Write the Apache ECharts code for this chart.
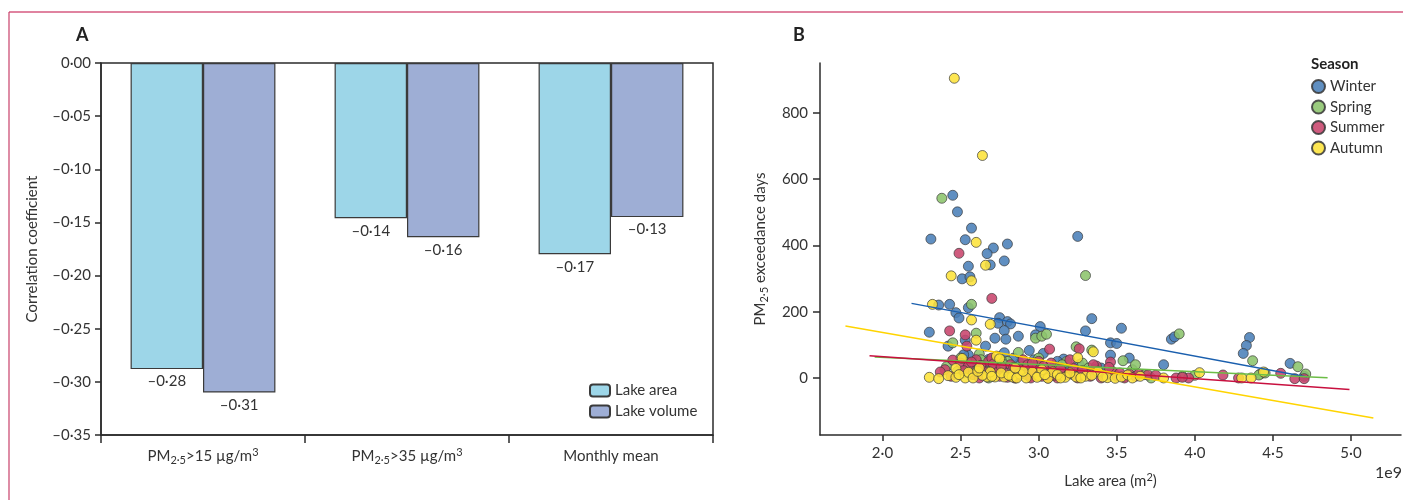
<!DOCTYPE html>
<html><head><meta charset="utf-8">
<script src="https://cdn.jsdelivr.net/npm/echarts@6/dist/echarts.min.js"></script>
<style>html,body{margin:0;padding:0;background:#fff}#c{width:1403px;height:500px}</style>
</head><body><div id="c"></div>
<script>
// ---------- Panel A data ----------
const barCategories = ['PM{s|2·5}>15 µg/m{p|3}', 'PM{s|2·5}>35 µg/m{p|3}', 'Monthly mean'];
const areaValues = [-0.288, -0.146, -0.180];
const volumeValues = [-0.310, -0.164, -0.145];
const areaLabels = ['\u20130·28', '\u20130·14', '\u20130·17'];
const volumeLabels = ['\u20130·31', '\u20130·16', '\u20130·13'];
const barSeriesNames = ['Lake area', 'Lake volume'];

// ---------- Panel B data (x in units of 1e9 m²) ----------
const seasons = ['Winter', 'Spring', 'Summer', 'Autumn'];
const winterX = [2.45,2.48,2.57,2.31,2.53,2.71,2.80,2.67,3.25,2.55,2.69,2.78,2.51,2.56,2.36,2.43,2.55,2.47,2.49,2.75,2.74,2.80,2.82,3.01,3.34,3.30,2.78,2.30,2.53,2.72,2.79,2.87,2.98,2.66,2.42,2.55,2.78,2.94,3.03,3.16,2.68,3.53,3.85,3.87,4.35,4.33,4.31,3.46,3.50,3.46,3.58,3.80,4.61,2.62,2.75,2.88,2.95,3.10,3.20,3.05,2.70,3.40,2.58,4.70,2.52,2.60,2.84,2.97,3.12,3.26,2.64];
const winterY = [551,501,452,419,417,392,404,375,427,337,341,353,299,305,220,222,212,197,181,182,165,170,163,155,179,142,143,138,114,120,117,126,130,96,96,69,76,83,74,57,56,150,117,124,122,98,74,106,104,69,60,40,44,40,30,45,20,35,25,10,10,30,20,5,70,50,60,55,50,40,25];
const springX = [2.38,3.30,2.57,2.60,2.98,3.02,3.05,2.45,3.24,3.34,2.62,2.87,3.18,3.90,4.37,3.54,4.66,4.71,4.42,4.41,2.41,2.55,2.65,2.72,2.80,2.90,2.95,3.08,3.15,3.22,3.38,3.48,3.60,3.68,3.72,3.92,2.85,2.48,2.68,4.00,3.28,2.76,3.00,4.45,2.50,2.58,2.63,2.70,2.78,2.93,3.12,3.25,3.32,3.44,3.55,3.62,2.52,2.98];
const springY = [542,309,222,135,120,126,132,106,94,84,72,77,50,133,52,52,34,12,12,9,34,45,30,15,50,35,5,25,40,10,20,15,25,10,0,5,0,20,0,8,45,55,60,15,60,20,55,30,40,20,30,5,30,8,3,40,15,45];
const summerX = [2.49,2.70,2.43,2.53,2.54,3.07,3.26,2.45,3.46,3.37,4.18,4.28,4.55,4.64,4.70,3.70,3.75,3.88,3.96,2.40,2.50,2.55,2.58,2.62,2.65,2.68,2.72,2.75,2.78,2.82,2.85,2.88,2.92,2.95,2.98,3.02,3.05,3.08,3.12,3.15,3.18,3.22,3.25,3.30,3.33,3.36,3.40,3.43,3.47,3.50,3.55,3.58,3.62,2.60,2.70,2.37,3.00,3.20,2.90,3.92,2.44,2.52,2.57,2.63,2.67,2.71,2.74,2.80,2.84,2.87,2.93,2.97,3.03,3.10,3.14,3.28,3.35,3.45,3.52,3.64,2.76,3.06,2.96];
const summerY = [376,240,142,130,96,87,88,54,48,36,9,0,14,-2,-2,9,8,0,0,25,45,35,10,0,20,50,30,5,15,40,0,25,10,0,30,5,15,45,0,20,10,30,0,15,5,25,0,10,20,5,0,12,5,55,60,18,50,55,55,2,5,22,48,38,8,42,18,2,32,12,40,15,35,8,28,22,40,32,15,12,35,0,45];
const autumnX = [2.46,2.64,2.60,2.66,2.44,2.57,2.32,2.57,2.69,2.60,3.35,3.25,2.51,2.73,4.03,4.30,4.36,4.44,2.30,2.36,2.42,2.47,2.47,2.53,2.55,2.67,2.72,2.78,2.83,2.69,2.75,2.96,3.00,3.06,3.09,3.17,3.24,3.44,3.49,3.53,3.57,3.80,3.12,3.30,3.38,2.88,2.92,3.02,2.64,2.58,2.49,2.61,2.70,2.76,2.81,2.86,2.90,2.99,3.04,3.14,3.20,3.27,3.34,3.41,3.60,3.65,2.62,2.85];
const autumnY = [904,671,409,340,308,293,222,175,162,114,79,61,59,66,16,0,0,18,2,-2,7,2,29,0,17,3,3,3,3,18,58,18,7,-1,18,2,3,1,-1,3,9,0,10,5,20,12,0,25,8,0,10,20,5,15,8,0,20,2,10,0,15,0,8,3,0,5,30,30];
// fitted regression line end points
const winterFit = [[2.186, 225], [4.72, 3]];
const springFit = [[1.95, 63], [4.85, 1]];
const summerFit = [[1.917, 67], [4.99, -35]];
const autumnFit = [[1.763, 157], [5.143, -121]];
const xTicksB = [2.0, 2.5, 3.0, 3.5, 4.0, 4.5, 5.0];
const yTicksB = [0, 200, 400, 600, 800];

// ---------- styling ----------
const FONT = 'Lato, "Noto Sans", sans-serif';
const FS = 15;
const INK = '#333333';
const AXIS = '#2b2b2b';
const markerColors = ['#4a80b8', '#8cc46c', '#c8446c', '#fde23a'];
const lineColors = ['#1a5fae', '#6cbd46', '#c8103f', '#ffd400'];
const barColors = ['#9dd6e8', '#9eaed5'];

const fmtA = v => (v < 0 ? '\u2013' : '') + Math.abs(v).toFixed(2).replace('.', '\u00b7');
const fmtB = v => v.toFixed(1).replace('.', '\u00b7');
const zip = (xs, ys) => xs.map((x, i) => [x, ys[i]]);
const richSubSup = {
  s: { fontSize: 11, lineHeight: 12, verticalAlign: 'bottom', fontFamily: FONT, color: INK },
  p: { fontSize: 11, lineHeight: 12, verticalAlign: 'top', fontFamily: FONT, color: INK }
};

const seriesXs = [winterX, springX, summerX, autumnX];
const seriesYs = [winterY, springY, summerY, autumnY];
const fits = [winterFit, springFit, summerFit, autumnFit];

const scatterSeries = seasons.map((s, i) => ({
  name: s, type: 'scatter', xAxisIndex: 1, yAxisIndex: 1,
  data: zip(seriesXs[i], seriesYs[i]),
  symbolSize: 10, z: 2 + i * 0.01,
  itemStyle: { color: markerColors[i], borderColor: '#3a3a3a', borderWidth: 0.8, opacity: 0.88 }
}));
const fitSeries = seasons.map((s, i) => ({
  name: s + ' fit', type: 'line', xAxisIndex: 1, yAxisIndex: 1,
  data: fits[i], symbol: 'none', silent: true, z: 5,
  lineStyle: { color: lineColors[i], width: 1.5 }
}));

const option = {
  animation: false,
  backgroundColor: '#ffffff',
  textStyle: { fontFamily: FONT, color: INK },
  graphic: [
    { type: 'line', shape: { x1: 9, y1: 12, x2: 1403, y2: 12 }, style: { stroke: '#d65a80', lineWidth: 1.5 } },
    { type: 'line', shape: { x1: 9, y1: 12, x2: 9, y2: 500 }, style: { stroke: '#c8406a', lineWidth: 1.2 } },
    { type: 'text', left: 76, top: 26, style: { text: 'A', font: 'bold 18px ' + FONT, fill: '#222' } },
    { type: 'text', left: 793, top: 26, style: { text: 'B', font: 'bold 18px ' + FONT, fill: '#222' } },
    { type: 'text', left: 1311, top: 57, style: { text: 'Season', font: 'bold 15px ' + FONT, fill: '#222' } },
    { type: 'text', left: 1375, top: 465, style: { text: '1e9', font: '16px ' + FONT, fill: INK } }
  ],
  legend: [
    { data: barSeriesNames, orient: 'vertical', left: 584, top: 378, itemWidth: 20, itemHeight: 12, itemGap: 6,
      selectedMode: false, textStyle: { fontSize: FS, color: INK, fontFamily: FONT } },
    { data: seasons, orient: 'vertical', left: 1306, top: 74, icon: 'circle', itemWidth: 13, itemHeight: 13, itemGap: 5.5,
      selectedMode: false, textStyle: { fontSize: FS, color: INK, fontFamily: FONT } }
  ],
  grid: [
    { left: 101, top: 63, width: 612, height: 372, show: true, borderColor: AXIS, borderWidth: 1.5, backgroundColor: 'transparent' },
    { left: 820, top: 63, width: 581, height: 372 }
  ],
  xAxis: [
    { type: 'category', gridIndex: 0, data: barCategories,
      axisLine: { onZero: false, lineStyle: { color: AXIS, width: 1.5 } },
      axisTick: { show: true, length: 8, lineStyle: { color: AXIS, width: 1.5 } },
      axisLabel: { interval: 0, fontSize: FS, color: INK, margin: 12, lineHeight: 19, rich: richSubSup } },
    { type: 'value', gridIndex: 1, min: 1.6, max: 5.32,
      axisLine: { show: true, onZero: false, lineStyle: { color: AXIS, width: 1.5 } },
      axisTick: { show: true, length: 6, customValues: xTicksB, lineStyle: { color: AXIS, width: 1.5 } },
      axisLabel: { fontSize: FS, color: INK, margin: 11, customValues: xTicksB, formatter: fmtB },
      splitLine: { show: false },
      name: 'Lake area (m{p|2})', nameLocation: 'middle', nameGap: 37,
      nameTextStyle: { fontSize: FS, color: INK, lineHeight: 19, rich: richSubSup } }
  ],
  yAxis: [
    { type: 'value', gridIndex: 0, min: -0.35, max: 0, interval: 0.05,
      axisLine: { show: true, onZero: false, lineStyle: { color: AXIS, width: 1.5 } },
      axisTick: { show: true, length: 6, lineStyle: { color: AXIS, width: 1.5 } },
      axisLabel: { fontSize: FS, color: INK, margin: 10, formatter: fmtA },
      splitLine: { show: false },
      name: 'Correlation coefficient', nameLocation: 'middle', nameGap: 61,
      nameTextStyle: { fontSize: FS, color: INK } },
    { type: 'value', gridIndex: 1, min: -172, max: 950,
      axisLine: { show: true, onZero: false, lineStyle: { color: AXIS, width: 1.5 } },
      axisTick: { show: true, length: 7, customValues: yTicksB, lineStyle: { color: AXIS, width: 1.5 } },
      axisLabel: { fontSize: FS, color: INK, margin: 12, customValues: yTicksB, formatter: v => String(v) },
      splitLine: { show: false },
      name: 'PM{s|2·5} exceedance days', nameLocation: 'middle', nameGap: 50,
      nameTextStyle: { fontSize: FS, color: INK, lineHeight: 19, rich: richSubSup } }
  ],
  series: [
    { name: barSeriesNames[0], type: 'bar', xAxisIndex: 0, yAxisIndex: 0, data: areaValues,
      barGap: '0%', barCategoryGap: '29%',
      itemStyle: { color: barColors[0], borderColor: '#3a3a3a', borderWidth: 1.2 },
      label: { show: true, position: 'outside', distance: 5, fontSize: FS, color: INK,
        formatter: p => areaLabels[p.dataIndex] } },
    { name: barSeriesNames[1], type: 'bar', xAxisIndex: 0, yAxisIndex: 0, data: volumeValues,
      barGap: '0%', barCategoryGap: '29%',
      itemStyle: { color: barColors[1], borderColor: '#3a3a3a', borderWidth: 1.2 },
      label: { show: true, position: 'outside', distance: 5, fontSize: FS, color: INK,
        formatter: p => volumeLabels[p.dataIndex] } },
    ...scatterSeries,
    ...fitSeries
  ]
};
const chart = echarts.init(document.getElementById('c'), null, { renderer: 'canvas' });
chart.setOption(option);
</script>
</body></html>
